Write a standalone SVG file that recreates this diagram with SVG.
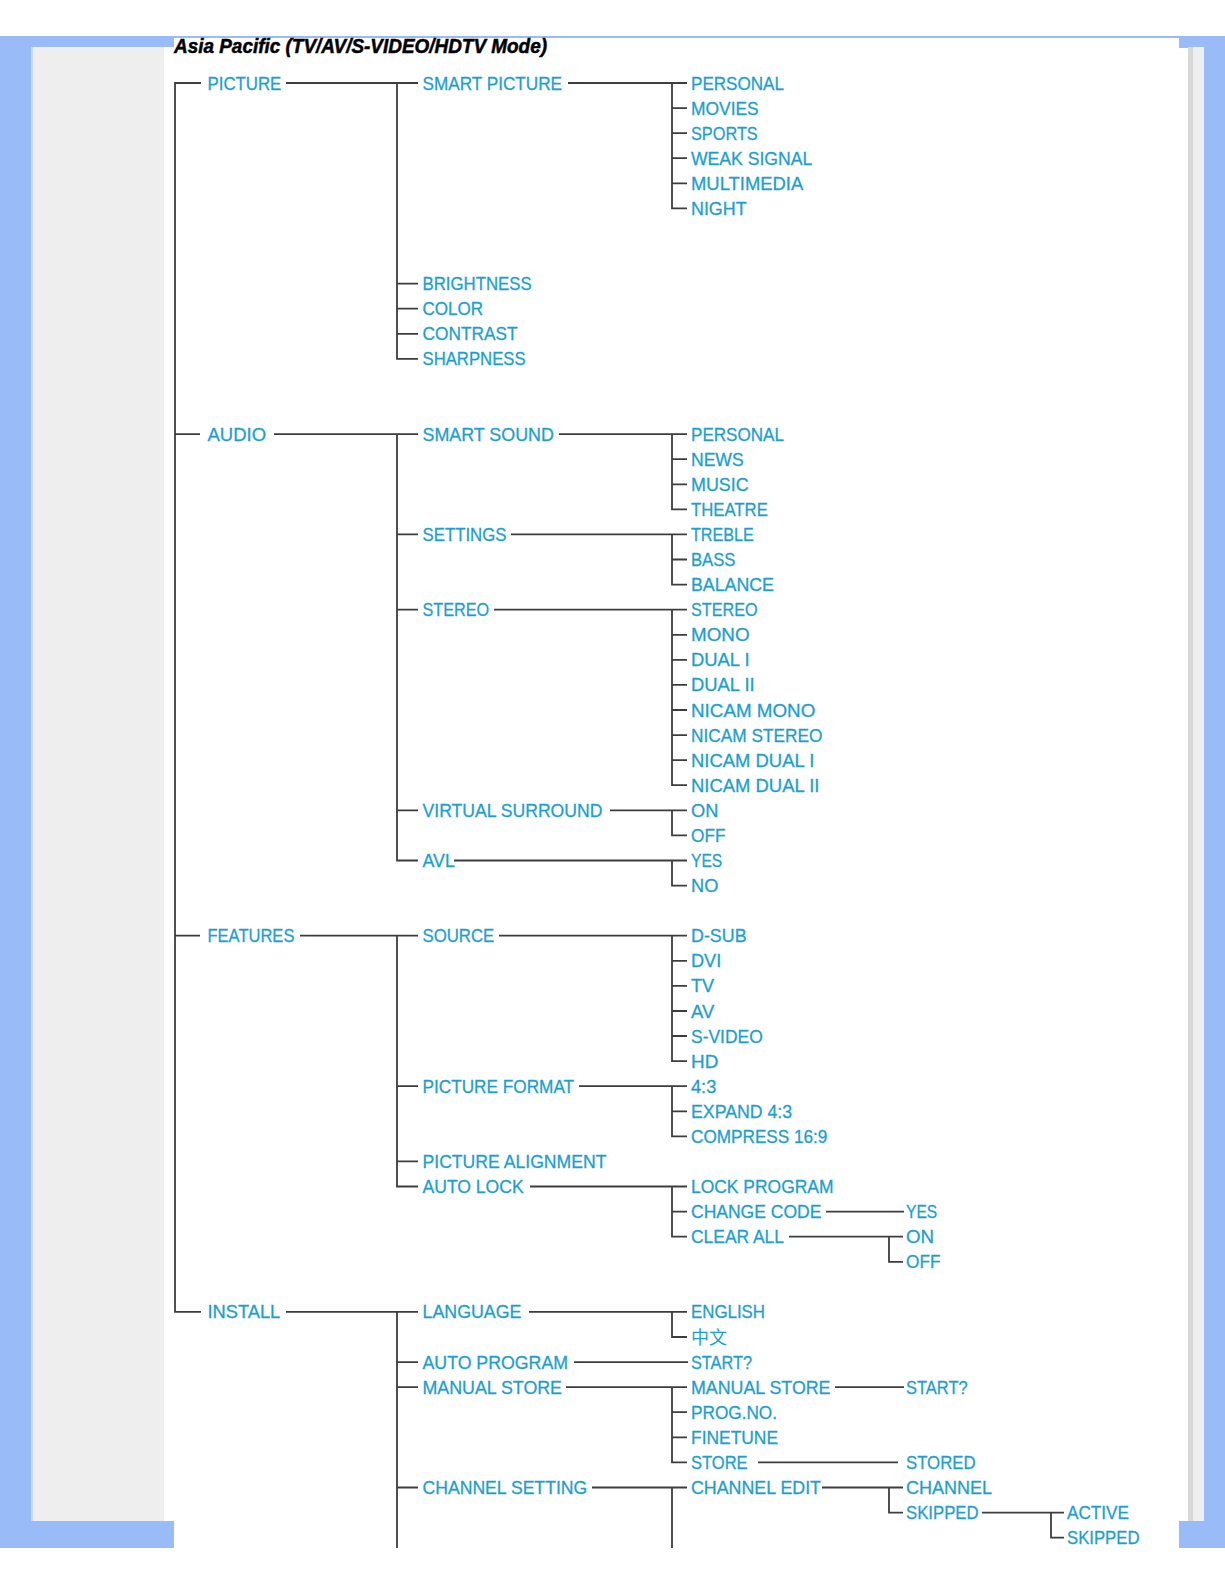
<svg xmlns="http://www.w3.org/2000/svg" width="1225" height="1585" viewBox="0 0 1225 1585">
<style>
.t{font-family:"Liberation Sans",Arial,sans-serif;font-size:19px;fill:#1d9ecf;stroke:#1d9ecf;stroke-width:0.3}
.cjk{font-family:"Noto Sans CJK SC","Noto Sans CJK TC",sans-serif;font-size:18px;fill:#1d9ecf}
.ttl{font-family:"Liberation Sans",Arial,sans-serif;font-size:20px;font-weight:bold;font-style:italic;fill:#000;stroke:#000;stroke-width:0.5}
.c{fill:none;stroke:#3d3d3d;stroke-width:1.8}
.fb{fill:#99bbf8}
</style>
<rect width="1225" height="1585" fill="#ffffff"/>
<g id="frame">
<rect class="fb" x="0" y="36" width="1225" height="2"/>
<rect class="fb" x="0" y="36" width="174" height="11"/>
<rect class="fb" x="1179" y="36" width="46" height="12"/>
<rect class="fb" x="0" y="36" width="31" height="1512"/>
<rect x="31" y="47" width="2" height="1474" fill="#c9d9fa"/>
<rect x="33" y="47" width="131" height="1474" fill="#eeeeee"/>
<rect class="fb" x="0" y="1521" width="174" height="27"/>
<rect x="1188" y="47" width="5" height="1474" fill="#d8d8d8"/>
<rect x="1193" y="47" width="11" height="1474" fill="#eeeeee"/>
<rect class="fb" x="1204" y="36" width="21" height="1512"/>
<rect class="fb" x="1179" y="1521" width="46" height="27"/>
</g>
<g id="title"><text class="ttl" x="174" y="53" textLength="373" lengthAdjust="spacingAndGlyphs">Asia Pacific (TV/AV/S-VIDEO/HDTV Mode)</text></g>
<g id="connectors">
<path class="c" d="M201,83H175V1311.9H201M175,434.1H200M175,935.7H200"/>
<path class="c" d="M286,83H418M397,83V358.9H418M397,283.6H418M397,308.7H418M397,333.8H418"/>
<path class="c" d="M274,434.1H418M397,434.1V860.5H418M397,534.4H418M397,609.7H418M397,810.3H418"/>
<path class="c" d="M300,935.7H418M397,935.7V1186.5H418M397,1086.2H418M397,1161.4H418"/>
<path class="c" d="M286,1311.9H418M397,1311.9V1548M397,1362.1H418M397,1387.2H418M397,1487.5H418"/>
<path class="c" d="M568,83H687M672,83V208.4H687M672,108.1H687M672,133.2H687M672,158.2H687M672,183.3H687"/>
<path class="c" d="M559,434.1H687M672,434.1V509.4H687M672,459.2H687M672,484.3H687"/>
<path class="c" d="M511,534.4H687M672,534.4V584.6H687M672,559.5H687"/>
<path class="c" d="M494,609.7H687M672,609.7V785.2H687M672,634.8H687M672,659.8H687M672,684.9H687M672,710H687M672,735.1H687M672,760.2H687"/>
<path class="c" d="M610,810.3H687M672,810.3V835.4H687"/>
<path class="c" d="M454,860.5H687M672,860.5V885.6H687"/>
<path class="c" d="M499,935.7H687M672,935.7V1061.1H687M672,960.8H687M672,985.9H687M672,1011H687M672,1036H687"/>
<path class="c" d="M579,1086.2H687M672,1086.2V1136.4H687M672,1111.3H687"/>
<path class="c" d="M530,1186.5H687M672,1186.5V1236.7H687M672,1211.6H687"/>
<path class="c" d="M529,1311.9H687M672,1311.9V1337H687"/>
<path class="c" d="M574,1362.1H688"/>
<path class="c" d="M566,1387.2H687M672,1387.2V1462.4H687M672,1412.2H687M672,1437.3H687"/>
<path class="c" d="M592,1487.5H687M672,1487.5V1548"/>
<path class="c" d="M826,1211.6H904"/>
<path class="c" d="M789,1236.7H903M889,1236.7V1261.8H903"/>
<path class="c" d="M835,1387.2H904"/>
<path class="c" d="M758,1462.4H898"/>
<path class="c" d="M822,1487.5H903M889,1487.5V1512.6H903"/>
<path class="c" d="M982,1512.6H1064M1051,1512.6V1537.6H1064"/>
</g>
<g id="picture"><text class="t" x="207.5" y="89.5" textLength="73.8" lengthAdjust="spacingAndGlyphs">PICTURE</text></g>
<g id="smart-picture"><text class="t" x="422.5" y="89.5" textLength="139.5" lengthAdjust="spacingAndGlyphs">SMART PICTURE</text></g>
<g id="sp-personal"><text class="t" x="691" y="89.5" textLength="93" lengthAdjust="spacingAndGlyphs">PERSONAL</text></g>
<g id="sp-movies"><text class="t" x="691" y="114.6" textLength="67.7" lengthAdjust="spacingAndGlyphs">MOVIES</text></g>
<g id="sp-sports"><text class="t" x="691" y="139.7" textLength="66.7" lengthAdjust="spacingAndGlyphs">SPORTS</text></g>
<g id="sp-weak"><text class="t" x="691" y="164.7" textLength="121.3" lengthAdjust="spacingAndGlyphs">WEAK SIGNAL</text></g>
<g id="sp-multimedia"><text class="t" x="691" y="189.8" textLength="112.2" lengthAdjust="spacingAndGlyphs">MULTIMEDIA</text></g>
<g id="sp-night"><text class="t" x="691" y="214.9" textLength="55.6" lengthAdjust="spacingAndGlyphs">NIGHT</text></g>
<g id="brightness"><text class="t" x="422.5" y="290.1" textLength="109.2" lengthAdjust="spacingAndGlyphs">BRIGHTNESS</text></g>
<g id="color"><text class="t" x="422.5" y="315.2" textLength="60.6" lengthAdjust="spacingAndGlyphs">COLOR</text></g>
<g id="contrast"><text class="t" x="422.5" y="340.3" textLength="95" lengthAdjust="spacingAndGlyphs">CONTRAST</text></g>
<g id="sharpness"><text class="t" x="422.5" y="365.4" textLength="103.1" lengthAdjust="spacingAndGlyphs">SHARPNESS</text></g>
<g id="audio"><text class="t" x="207.5" y="440.6" textLength="58.6" lengthAdjust="spacingAndGlyphs">AUDIO</text></g>
<g id="smart-sound"><text class="t" x="422.5" y="440.6" textLength="131.4" lengthAdjust="spacingAndGlyphs">SMART SOUND</text></g>
<g id="ss-personal"><text class="t" x="691" y="440.6" textLength="93" lengthAdjust="spacingAndGlyphs">PERSONAL</text></g>
<g id="ss-news"><text class="t" x="691" y="465.7" textLength="52.6" lengthAdjust="spacingAndGlyphs">NEWS</text></g>
<g id="ss-music"><text class="t" x="691" y="490.8" textLength="57.6" lengthAdjust="spacingAndGlyphs">MUSIC</text></g>
<g id="ss-theatre"><text class="t" x="691" y="515.9" textLength="76.8" lengthAdjust="spacingAndGlyphs">THEATRE</text></g>
<g id="settings"><text class="t" x="422.5" y="540.9" textLength="83.9" lengthAdjust="spacingAndGlyphs">SETTINGS</text></g>
<g id="treble"><text class="t" x="691" y="540.9" textLength="62.7" lengthAdjust="spacingAndGlyphs">TREBLE</text></g>
<g id="bass"><text class="t" x="691" y="566" textLength="44.5" lengthAdjust="spacingAndGlyphs">BASS</text></g>
<g id="balance"><text class="t" x="691" y="591.1" textLength="82.9" lengthAdjust="spacingAndGlyphs">BALANCE</text></g>
<g id="stereo"><text class="t" x="422.5" y="616.2" textLength="66.7" lengthAdjust="spacingAndGlyphs">STEREO</text></g>
<g id="st-stereo"><text class="t" x="691" y="616.2" textLength="66.7" lengthAdjust="spacingAndGlyphs">STEREO</text></g>
<g id="st-mono"><text class="t" x="691" y="641.3" textLength="58.6" lengthAdjust="spacingAndGlyphs">MONO</text></g>
<g id="st-dual1"><text class="t" x="691" y="666.3" textLength="58.6" lengthAdjust="spacingAndGlyphs">DUAL I</text></g>
<g id="st-dual2"><text class="t" x="691" y="691.4" textLength="63.7" lengthAdjust="spacingAndGlyphs">DUAL II</text></g>
<g id="st-nicam-mono"><text class="t" x="691" y="716.5" textLength="124.3" lengthAdjust="spacingAndGlyphs">NICAM MONO</text></g>
<g id="st-nicam-stereo"><text class="t" x="691" y="741.6" textLength="131.4" lengthAdjust="spacingAndGlyphs">NICAM STEREO</text></g>
<g id="st-nicam-dual1"><text class="t" x="691" y="766.7" textLength="123.3" lengthAdjust="spacingAndGlyphs">NICAM DUAL I</text></g>
<g id="st-nicam-dual2"><text class="t" x="691" y="791.7" textLength="128.4" lengthAdjust="spacingAndGlyphs">NICAM DUAL II</text></g>
<g id="virtual-surround"><text class="t" x="422.5" y="816.8" textLength="179.9" lengthAdjust="spacingAndGlyphs">VIRTUAL SURROUND</text></g>
<g id="vs-on"><text class="t" x="691" y="816.8" textLength="27.3" lengthAdjust="spacingAndGlyphs">ON</text></g>
<g id="vs-off"><text class="t" x="691" y="841.9" textLength="34.4" lengthAdjust="spacingAndGlyphs">OFF</text></g>
<g id="avl"><text class="t" x="422.5" y="867" textLength="32.3" lengthAdjust="spacingAndGlyphs">AVL</text></g>
<g id="avl-yes"><text class="t" x="691" y="867" textLength="31.3" lengthAdjust="spacingAndGlyphs">YES</text></g>
<g id="avl-no"><text class="t" x="691" y="892.1" textLength="27.3" lengthAdjust="spacingAndGlyphs">NO</text></g>
<g id="features"><text class="t" x="207.5" y="942.2" textLength="86.9" lengthAdjust="spacingAndGlyphs">FEATURES</text></g>
<g id="source"><text class="t" x="422.5" y="942.2" textLength="71.8" lengthAdjust="spacingAndGlyphs">SOURCE</text></g>
<g id="src-dsub"><text class="t" x="691" y="942.2" textLength="55.6" lengthAdjust="spacingAndGlyphs">D-SUB</text></g>
<g id="src-dvi"><text class="t" x="691" y="967.3" textLength="30.3" lengthAdjust="spacingAndGlyphs">DVI</text></g>
<g id="src-tv"><text class="t" x="691" y="992.4" textLength="23.2" lengthAdjust="spacingAndGlyphs">TV</text></g>
<g id="src-av"><text class="t" x="691" y="1017.5" textLength="23.2" lengthAdjust="spacingAndGlyphs">AV</text></g>
<g id="src-svideo"><text class="t" x="691" y="1042.5" textLength="71.8" lengthAdjust="spacingAndGlyphs">S-VIDEO</text></g>
<g id="src-hd"><text class="t" x="691" y="1067.6" textLength="27.3" lengthAdjust="spacingAndGlyphs">HD</text></g>
<g id="picture-format"><text class="t" x="422.5" y="1092.7" textLength="151.6" lengthAdjust="spacingAndGlyphs">PICTURE FORMAT</text></g>
<g id="pf-43"><text class="t" x="691" y="1092.7" textLength="25.3" lengthAdjust="spacingAndGlyphs">4:3</text></g>
<g id="pf-expand"><text class="t" x="691" y="1117.8" textLength="101.1" lengthAdjust="spacingAndGlyphs">EXPAND 4:3</text></g>
<g id="pf-compress"><text class="t" x="691" y="1142.9" textLength="136.4" lengthAdjust="spacingAndGlyphs">COMPRESS 16:9</text></g>
<g id="picture-alignment"><text class="t" x="422.5" y="1167.9" textLength="184" lengthAdjust="spacingAndGlyphs">PICTURE ALIGNMENT</text></g>
<g id="auto-lock"><text class="t" x="422.5" y="1193" textLength="101.1" lengthAdjust="spacingAndGlyphs">AUTO LOCK</text></g>
<g id="lock-program"><text class="t" x="691" y="1193" textLength="142.5" lengthAdjust="spacingAndGlyphs">LOCK PROGRAM</text></g>
<g id="change-code"><text class="t" x="691" y="1218.1" textLength="130.4" lengthAdjust="spacingAndGlyphs">CHANGE CODE</text></g>
<g id="cc-yes"><text class="t" x="906" y="1218.1" textLength="31.3" lengthAdjust="spacingAndGlyphs">YES</text></g>
<g id="clear-all"><text class="t" x="691" y="1243.2" textLength="93" lengthAdjust="spacingAndGlyphs">CLEAR ALL</text></g>
<g id="ca-on"><text class="t" x="906" y="1243.2" textLength="28" lengthAdjust="spacingAndGlyphs">ON</text></g>
<g id="ca-off"><text class="t" x="906" y="1268.3" textLength="34.4" lengthAdjust="spacingAndGlyphs">OFF</text></g>
<g id="install"><text class="t" x="207.5" y="1318.4" textLength="72.8" lengthAdjust="spacingAndGlyphs">INSTALL</text></g>
<g id="language"><text class="t" x="422.5" y="1318.4" textLength="99" lengthAdjust="spacingAndGlyphs">LANGUAGE</text></g>
<g id="english"><text class="t" x="691" y="1318.4" textLength="74" lengthAdjust="spacingAndGlyphs">ENGLISH</text></g>
<g id="chinese"><text class="cjk" x="691" y="1343.5">中文</text></g>
<g id="auto-program"><text class="t" x="422.5" y="1368.6" textLength="145.5" lengthAdjust="spacingAndGlyphs">AUTO PROGRAM</text></g>
<g id="ap-start"><text class="t" x="691" y="1368.6" textLength="61" lengthAdjust="spacingAndGlyphs">START?</text></g>
<g id="manual-store"><text class="t" x="422.5" y="1393.7" textLength="139.5" lengthAdjust="spacingAndGlyphs">MANUAL STORE</text></g>
<g id="ms-manual-store"><text class="t" x="691" y="1393.7" textLength="139.5" lengthAdjust="spacingAndGlyphs">MANUAL STORE</text></g>
<g id="ms-start"><text class="t" x="906" y="1393.7" textLength="61.7" lengthAdjust="spacingAndGlyphs">START?</text></g>
<g id="prog-no"><text class="t" x="691" y="1418.7" textLength="86" lengthAdjust="spacingAndGlyphs">PROG.NO.</text></g>
<g id="finetune"><text class="t" x="691" y="1443.8" textLength="87" lengthAdjust="spacingAndGlyphs">FINETUNE</text></g>
<g id="store"><text class="t" x="691" y="1468.9" textLength="56.6" lengthAdjust="spacingAndGlyphs">STORE</text></g>
<g id="stored"><text class="t" x="906" y="1468.9" textLength="69.5" lengthAdjust="spacingAndGlyphs">STORED</text></g>
<g id="channel-setting"><text class="t" x="422.5" y="1494" textLength="164.7" lengthAdjust="spacingAndGlyphs">CHANNEL SETTING</text></g>
<g id="channel-edit"><text class="t" x="691" y="1494" textLength="130" lengthAdjust="spacingAndGlyphs">CHANNEL EDIT</text></g>
<g id="ce-channel"><text class="t" x="906" y="1494" textLength="86" lengthAdjust="spacingAndGlyphs">CHANNEL</text></g>
<g id="ce-skipped"><text class="t" x="906" y="1519.1" textLength="72.6" lengthAdjust="spacingAndGlyphs">SKIPPED</text></g>
<g id="sk-active"><text class="t" x="1067" y="1519.1" textLength="62" lengthAdjust="spacingAndGlyphs">ACTIVE</text></g>
<g id="sk-skipped"><text class="t" x="1067" y="1544.1" textLength="72.5" lengthAdjust="spacingAndGlyphs">SKIPPED</text></g>
</svg>
